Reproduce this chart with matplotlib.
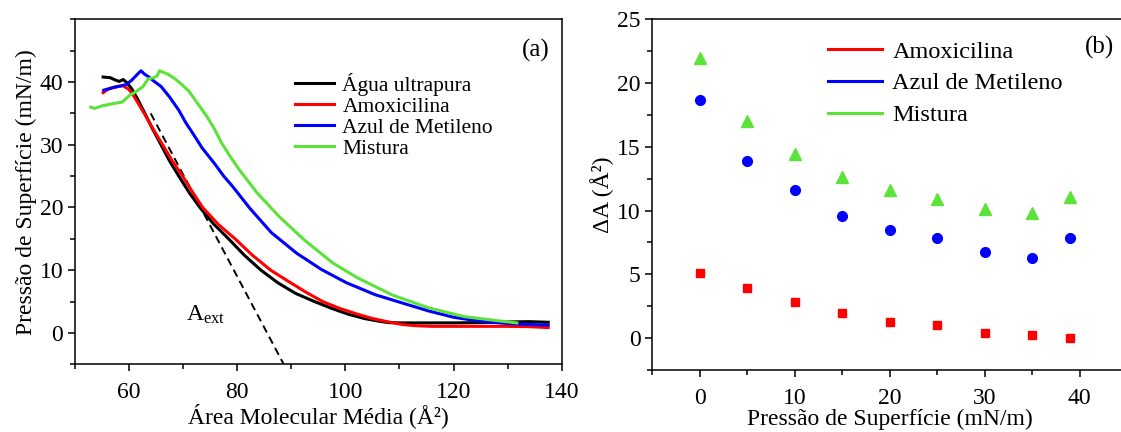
import matplotlib
matplotlib.use('Agg')
import matplotlib.pyplot as plt
from matplotlib.ticker import MultipleLocator

plt.rcParams['font.family'] = ['Liberation Serif', 'DejaVu Serif']
plt.rcParams['mathtext.fontset'] = 'custom'
plt.rcParams['mathtext.rm'] = 'Liberation Serif'
plt.rcParams['mathtext.it'] = 'Liberation Serif:italic'

# (a) isotherms: area (A^2) vs surface pressure (mN/m)
agua_x = [55.2, 56.5, 57.5, 58.2, 58.9, 59.6, 60.5, 61.5, 62.8, 64.3, 65.9, 67.5, 69.2, 71.1, 73.1,
          75.6, 78.4, 81.3, 84.4, 87.5, 90.8, 94.3, 97.5, 100.5, 103.5, 106.0, 108.0, 110, 115, 120,
          125, 130, 134, 137.5]
agua_y = [40.8, 40.7, 40.3, 40.1, 40.4, 39.9, 38.9, 37.4, 35.2, 32.6, 30.0, 27.4, 25.0, 22.4, 20.0,
          17.4, 15.0, 12.4, 10.0, 8.0, 6.3, 5.0, 3.9, 3.0, 2.3, 1.9, 1.65, 1.6, 1.6, 1.6,
          1.65, 1.75, 1.8, 1.7]

amox_x = [55.2, 56.0, 57.3, 58.9, 60.0, 61.0, 62.8, 64.3, 66.2, 68.0, 69.9, 71.7, 73.6, 76.5, 79.6,
          82.8, 86.2, 89.5, 92.5, 95.8, 99.0, 102.2, 105.0, 108.0, 110.5, 113.0, 116, 120, 125, 130,
          134, 137.5]
amox_y = [38.3, 38.8, 39.2, 39.4, 38.8, 37.6, 35.0, 32.7, 30.0, 27.4, 25.0, 22.5, 20.0, 17.3, 15.0,
          12.4, 10.0, 8.2, 6.6, 5.0, 3.9, 3.0, 2.3, 1.75, 1.35, 1.15, 1.05, 1.05, 1.05, 1.05,
          1.0, 0.85]

azul_x = [55.3, 56.5, 58.0, 59.5, 60.5, 61.5, 62.2, 62.8, 63.5, 64.5, 65.9, 67.5, 69.2, 70.5, 71.8,
          73.5, 75.8, 77.5, 79.1, 82.4, 86.3, 91.0, 95.6, 100.2, 105.5, 110.8, 115.4, 120, 125, 130,
          134, 137.5]
azul_y = [38.7, 39.0, 39.3, 39.6, 40.3, 41.2, 41.8, 41.3, 40.9, 40.2, 39.3, 37.6, 35.5, 33.5, 31.8,
          29.5, 27.0, 25.0, 23.4, 19.8, 16.0, 12.7, 10.1, 8.0, 6.1, 4.7, 3.5, 2.5, 1.85, 1.5,
          1.35, 1.25]

mist_x = [52.9, 53.6, 55.0, 57.3, 58.7, 60.0, 61.5, 62.6, 63.5, 64.6, 65.2, 65.6, 66.2, 67.3, 68.5,
          69.5, 71.0, 72.5, 74.4, 75.8, 77.1, 78.8, 80.4, 83.7, 87.7, 92.3, 97.6, 102.2, 108.8, 115.4,
          122, 128.6, 131.7]
mist_y = [36.0, 35.8, 36.2, 36.6, 36.8, 37.8, 38.6, 39.3, 40.5, 40.7, 41.0, 41.8, 41.6, 41.2, 40.5,
          39.8, 38.6, 36.8, 34.5, 32.5, 30.3, 28.0, 26.0, 22.3, 18.6, 14.9, 11.2, 8.8, 6.0, 4.0,
          2.6, 1.9, 1.6]

# extrapolation line for A_ext
ext_x = [64.0, 88.6]
ext_y = [35.0, -5.0]

# (b) delta A vs surface pressure
pressao = [0, 5, 10, 15, 20, 25, 30, 35, 39]
dA_amox = [5.1, 3.9, 2.8, 2.0, 1.3, 1.0, 0.4, 0.25, 0.0]
dA_azul = [18.7, 13.9, 11.6, 9.55, 8.47, 7.87, 6.72, 6.27, 7.82]
dA_mist = [22.0, 17.0, 14.4, 12.6, 11.6, 10.9, 10.1, 9.8, 11.1]

GREEN = '#5be33a'

fig = plt.figure(figsize=(11.21, 4.32), dpi=100)
ax1 = fig.add_axes([0.0669, 0.1567, 0.4342, 0.7986])
ax2 = fig.add_axes([0.5819, 0.1435, 0.4237, 0.8118])

lw = 2.2
ax1.plot(ext_x, ext_y, color='black', lw=1.4, ls=(0, (4, 2.5)), zorder=1)
ax1.plot(agua_x, agua_y, color='black', lw=lw, label='Água ultrapura')
ax1.plot(amox_x, amox_y, color='red', lw=lw, label='Amoxicilina')
ax1.plot(azul_x, azul_y, color='blue', lw=lw, label='Azul de Metileno')
ax1.plot(mist_x, mist_y, color=GREEN, lw=lw, label='Mistura')
ax1.set_xlim(50, 140)
ax1.set_ylim(-5, 50)
ax1.xaxis.set_major_locator(MultipleLocator(20))
ax1.xaxis.set_minor_locator(MultipleLocator(10))
ax1.yaxis.set_major_locator(MultipleLocator(10))
ax1.yaxis.set_minor_locator(MultipleLocator(5))
ax1.set_yticks([0, 10, 20, 30, 40])
ax1.set_xticks([60, 80, 100, 120, 140])
ax1.set_xlabel('Área Molecular Média (Å²)', fontsize=17, labelpad=0)
ax1.set_ylabel('Pressão de Superfície (mN/m)', fontsize=17, labelpad=2)
ax1.text(74.2, 2.9, r'A$_{\mathrm{ext}}$', fontsize=17, ha='center', va='center')
ax1.text(0.947, 0.911, '(a)', transform=ax1.transAxes, fontsize=18, ha='center', va='center')
ax1.legend(loc='upper left', bbox_to_anchor=(0.452, 0.845), frameon=False, fontsize=15.5,
           handlelength=1.8, handletextpad=0.4, labelspacing=0.04, borderpad=0, borderaxespad=0)

ax2.plot(pressao, dA_amox, ls='none', marker='s', ms=6, color='red', label='Amoxicilina')
ax2.plot(pressao, dA_azul, ls='none', marker='o', ms=7, color='blue', label='Azul de Metileno')
ax2.plot(pressao, dA_mist, ls='none', marker='^', ms=8, color=GREEN, label='Mistura')
ax2.set_xlim(-5, 45)
ax2.set_ylim(-2.5, 25)
ax2.xaxis.set_major_locator(MultipleLocator(10))
ax2.xaxis.set_minor_locator(MultipleLocator(5))
ax2.yaxis.set_major_locator(MultipleLocator(5))
ax2.yaxis.set_minor_locator(MultipleLocator(2.5))
ax2.set_xticks([0, 10, 20, 30, 40])
ax2.set_yticks([0, 5, 10, 15, 20, 25])
ax2.set_xlabel('Pressão de Superfície (mN/m)', fontsize=17, labelpad=0)
ax2.set_ylabel('ΔA (Å²)', fontsize=17, labelpad=2)
ax2.text(0.9425, 0.92, '(b)', transform=ax2.transAxes, fontsize=18, ha='center', va='center')
ax2.spines['right'].set_visible(False)
h = [plt.Line2D([], [], color=c, lw=2.2) for c in ['red', 'blue', GREEN]]
ax2.legend(h, ['Amoxicilina', 'Azul de Metileno', 'Mistura'], loc='upper left',
           bbox_to_anchor=(0.37, 0.939), frameon=False, fontsize=17.5,
           handlelength=2.2, handletextpad=0.45, labelspacing=0.4, borderpad=0, borderaxespad=0)

for ax in (ax1, ax2):
    ax.tick_params(which='both', direction='out', top=False, right=False, labelsize=17, width=1.1)
    ax.tick_params(which='major', length=5)
    ax.tick_params(which='minor', length=3.5)
    ax.tick_params(axis='x', which='major', pad=8)
    for s in ax.spines.values():
        s.set_linewidth(1.1)

fig.savefig('out.png', dpi=100)
